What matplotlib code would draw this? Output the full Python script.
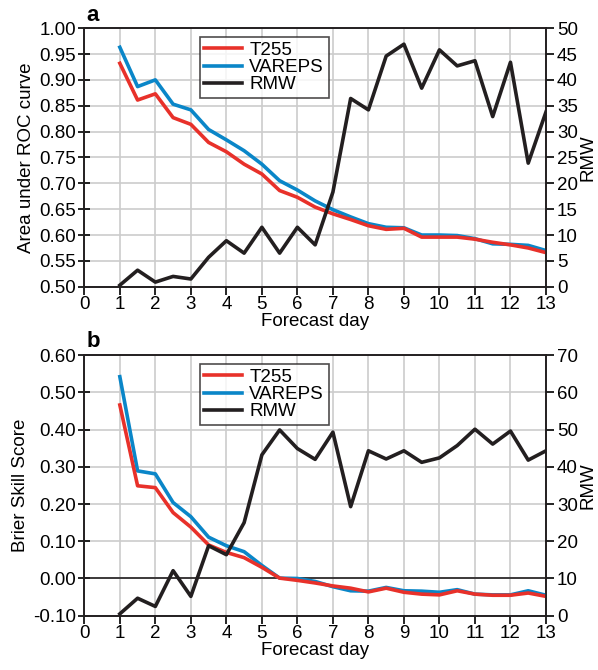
import matplotlib
matplotlib.use("Agg")
import matplotlib.pyplot as plt
import numpy as np

plt.rcParams['font.family'] = ['Liberation Sans', 'DejaVu Sans']
plt.rcParams['font.size'] = 13.5

days = np.arange(1, 13.01, 0.5)

# panel a: area under ROC curve
roc_t255 = [0.932, 0.861, 0.873, 0.827, 0.814, 0.779, 0.761, 0.737, 0.718, 0.686,
            0.673, 0.654, 0.641, 0.630, 0.618, 0.611, 0.613, 0.596, 0.596, 0.596,
            0.592, 0.586, 0.581, 0.575, 0.566]
roc_vareps = [0.963, 0.887, 0.900, 0.853, 0.842, 0.804, 0.784, 0.763, 0.737, 0.705,
              0.687, 0.666, 0.649, 0.635, 0.622, 0.615, 0.614, 0.600, 0.600, 0.599,
              0.593, 0.583, 0.582, 0.580, 0.570]
rmw_a = [0.3, 3.2, 0.9, 2.0, 1.5, 5.7, 8.9, 6.5, 11.5, 6.5,
         11.5, 8.1, 18.3, 36.4, 34.2, 44.6, 46.9, 38.4, 45.8, 42.7,
         43.7, 32.9, 43.4, 23.9, 33.8]

# panel b: Brier skill score
bss_t255 = [0.466, 0.249, 0.244, 0.177, 0.138, 0.090, 0.070, 0.056, 0.030, 0.001,
            -0.005, -0.012, -0.020, -0.026, -0.036, -0.026, -0.037, -0.042, -0.044, -0.033,
            -0.042, -0.045, -0.045, -0.039, -0.048]
bss_vareps = [0.542, 0.289, 0.281, 0.204, 0.166, 0.111, 0.088, 0.072, 0.035, 0.001,
              0.000, -0.008, -0.022, -0.033, -0.034, -0.024, -0.033, -0.034, -0.037, -0.030,
              -0.042, -0.044, -0.044, -0.033, -0.045]
rmw_b = [0.5, 4.7, 2.5, 12.1, 5.2, 18.8, 16.4, 25.0, 43.2, 49.9,
         44.9, 42.0, 49.3, 29.3, 44.3, 42.1, 44.3, 41.2, 42.4, 45.7,
         50.1, 46.1, 49.6, 41.8, 44.3]

red = '#e8312a'
blue = '#0a86c8'
black = '#231f20'
lw = 2.6


def panel(ax, t255, vareps, rmw, ylim, ystep, ylabel, rlim, rstep, letter, zero_line=False):
    ax.set_xlim(0, 13)
    ax.set_ylim(*ylim)
    ax.set_xticks(range(0, 14))
    yt = np.arange(ylim[0], ylim[1] + ystep / 2, ystep)
    ax.set_yticks(yt)
    ax.set_yticklabels([f"{v:.2f}" for v in yt])
    ax.grid(True, color='#cccccc', linewidth=1.2)
    ax.set_axisbelow(True)
    if zero_line:
        ax.axhline(0, color=black, linewidth=1.2, zorder=1.5)
    l1, = ax.plot(days, vareps, color=blue, linewidth=lw, label='VAREPS', zorder=3)
    l2, = ax.plot(days, t255, color=red, linewidth=lw, label='T255', zorder=4)
    ax.set_ylabel(ylabel, labelpad=3)
    ax.set_xlabel('Forecast day', labelpad=0)
    ax.tick_params(axis='y', direction='inout', length=8, width=1.2, pad=2)
    ax.tick_params(axis='x', direction='out', length=6, width=1.2, pad=1)
    for s in ax.spines.values():
        s.set_linewidth(1.2)
        s.set_color(black)

    ax2 = ax.twinx()
    l3, = ax2.plot(days, rmw, color=black, linewidth=lw, label='RMW')
    ax2.set_ylim(*rlim)
    ax2.set_yticks(np.arange(rlim[0], rlim[1] + 1, rstep))
    ax2.set_ylabel('RMW', labelpad=1)
    ax2.tick_params(axis='y', direction='out', length=6, width=1.2, pad=2)
    for s in ax2.spines.values():
        s.set_linewidth(1.2)
        s.set_color(black)

    leg = ax2.legend([l2, l1, l3], ['T255', 'VAREPS', 'RMW'], loc='upper left',
                     bbox_to_anchor=(0.25, 0.965), frameon=True, fancybox=False,
                     handlelength=2.0, handletextpad=0.4, labelspacing=0.0,
                     borderpad=0.25, borderaxespad=0)
    leg.get_frame().set_edgecolor(black)
    leg.get_frame().set_linewidth(1.2)
    ax.text(0.005, 1.01, letter, transform=ax.transAxes, fontsize=16,
            fontweight='bold', va='bottom', ha='left')


fig = plt.figure(figsize=(5.98, 6.70), dpi=100)
ax_a = fig.add_axes([0.141, 0.572, 0.772, 0.386])
ax_b = fig.add_axes([0.141, 0.081, 0.772, 0.389])

panel(ax_a, roc_t255, roc_vareps, rmw_a, (0.5, 1.0), 0.05, 'Area under ROC curve',
      (0, 50), 5, 'a')
panel(ax_b, bss_t255, bss_vareps, rmw_b, (-0.1, 0.6), 0.1, 'Brier Skill Score',
      (0, 70), 10, 'b', zero_line=True)

fig.savefig('out.png', dpi=100)
